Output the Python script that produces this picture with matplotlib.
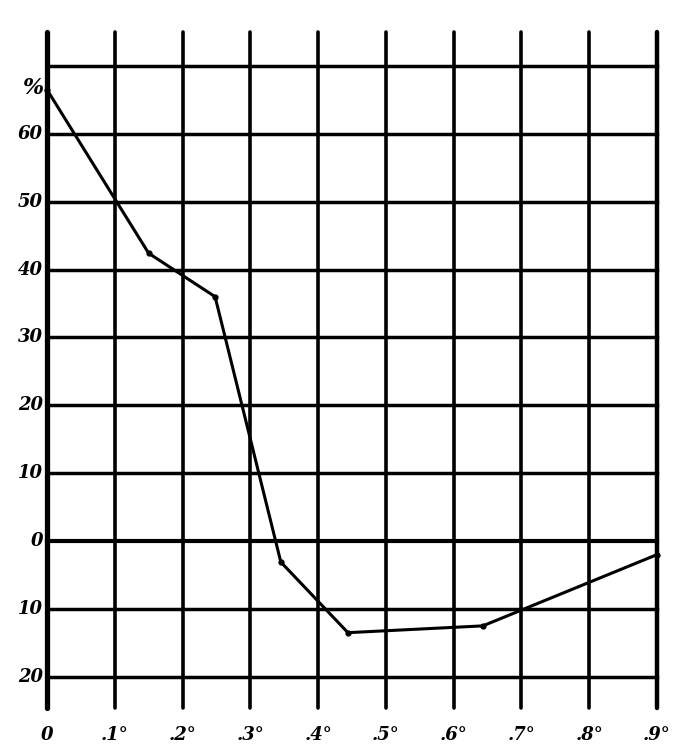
import matplotlib
matplotlib.use("Agg")
import matplotlib.pyplot as plt
import numpy as np

# curve
x_vals = [0.0, 0.150, 0.248, 0.345, 0.444, 0.643, 0.9]
y_vals = [66.5, 42.4, 36.0, -3.1, -13.5, -12.5, -2.0]

# grid / tick positions and labels
x_ticks = [0.0, 0.1, 0.2, 0.3, 0.4, 0.5, 0.6, 0.7, 0.8, 0.9]
x_labels = ["0", ".1°", ".2°", ".3°", ".4°", ".5°", ".6°", ".7°", ".8°", ".9°"]
y_ticks = [70, 60, 50, 40, 30, 20, 10, 0, -10, -20]
y_labels = ["%", "60", "50", "40", "30", "20", "10", "0", "10", "20"]

fig = plt.figure(figsize=(6.92, 7.5), dpi=100)
ax = fig.add_axes([47 / 692, 42 / 750, 610 / 692, 676 / 750])
ax.set_xlim(0, 0.9)
ax.set_ylim(-24.6, 75)
ax.axis('off')

# vertical lines (stick out above and below the grid)
for i, xv in enumerate(x_ticks):
    lw = 3.8 if i == 0 else (3.2 if i == len(x_ticks) - 1 else 2.6)
    ax.plot([xv, xv], [-24.6, 75], color='black', lw=lw,
            solid_capstyle='round', clip_on=False)

# horizontal lines
for yv in y_ticks:
    lw = 3.0 if yv == 0 else 2.5
    ax.plot([0, 0.9], [yv, yv], color='black', lw=lw, clip_on=False)

# data curve
ax.plot(x_vals, y_vals, color='black', lw=2.2, marker='o', markersize=3.5,
        clip_on=False)

font = dict(family='DejaVu Serif', weight='bold', style='italic', size=13)

for xv, lab in zip(x_ticks, x_labels):
    ax.text(xv, -28.6, lab, ha='center', va='center', **font)

for yv, lab in zip(y_ticks, y_labels):
    if lab == "%":
        ax.text(-0.006, yv - 3.2, lab, ha='right', va='center',
                **dict(font, size=16))
    else:
        ax.text(-0.006, yv, lab, ha='right', va='center', **font)

fig.savefig("out.png", dpi=100)
